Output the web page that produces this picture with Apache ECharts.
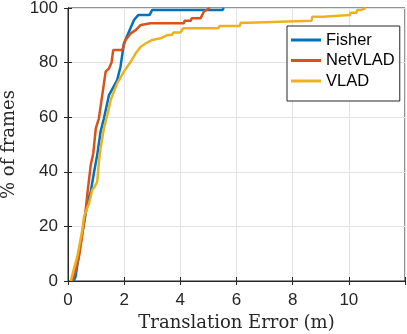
<!DOCTYPE html>
<html>
<head>
<meta charset="utf-8">
<script src="https://cdn.jsdelivr.net/npm/echarts@6/dist/echarts.min.js"></script>
<style>
html,body{margin:0;padding:0;background:#fff;}
#c{width:407px;height:334px;}
</style>
</head>
<body>
<div id="c"></div>
<script>
var xTicks = [0, 2, 4, 6, 8, 10];
var yTicks = [0, 20, 40, 60, 80, 100];
var seriesNames = ['Fisher', 'NetVLAD', 'VLAD'];

var fisher = [[0.2,0],[0.27,1.6],[0.45,13.9],[0.63,24.8],[0.75,30.9],[0.81,32.7],[0.93,40],[1.04,46.2],[1.16,54.7],[1.28,59.6],[1.46,68.1],[1.75,73.6],[1.87,78.5],[1.99,87],[2.17,91.3],[2.35,95.6],[2.5,97.4],[2.9,97.4],[3.0,99.3],[5.5,99.3],[5.55,100]];
var netvlad = [[0.15,0],[0.25,3],[0.39,8.9],[0.51,17],[0.63,26],[0.69,32],[0.81,42.5],[0.9,46.8],[0.99,55.9],[1.1,59.6],[1.22,68.1],[1.34,76.7],[1.46,77.9],[1.55,80],[1.61,84.6],[1.93,84.6],[2.05,88.3],[2.23,90.7],[2.41,91.9],[2.59,93.8],[2.94,94.4],[4.13,94.4],[4.15,95.3],[4.37,95.3],[4.4,96.2],[4.72,96.2],[4.84,98.7],[5.05,100]];
var vlad = [[0.1,0],[0.2,4],[0.33,8.9],[0.51,18.7],[0.57,23.6],[0.75,28.5],[0.86,33.3],[0.95,34.5],[1.04,36.4],[1.1,43.7],[1.16,48.6],[1.28,55.9],[1.4,60.8],[1.52,66.3],[1.75,72.4],[1.99,76.7],[2.23,80.3],[2.41,83.4],[2.59,85.8],[2.76,87],[3.0,88.3],[3.3,88.9],[3.53,90.1],[3.7,90.1],[3.75,91],[4.0,91],[4.1,92.6],[5.35,92.6],[5.4,93.4],[6.12,93.4],[6.15,94.6],[6.42,94.6],[6.45,95.3],[8.67,95.3],[8.7,96.8],[9.09,96.8],[9.12,97.4],[10.04,97.4],[10.07,98.3],[10.27,98.3],[10.3,99.3],[10.45,99.3],[10.6,100]];

var colors = ['#0072BD', '#D95319', '#EDB120'];
var axisColor = '#262626';

var chart = echarts.init(document.getElementById('c'), null, {renderer: 'canvas'});
function mkLine(name, data, color) {
  return {
    name: name, type: 'line', data: data, symbol: 'none', showSymbol: false,
    lineStyle: {color: color, width: 2.5}, itemStyle: {color: color},
    animation: false, z: 3
  };
}
chart.setOption({
  animation: false,
  backgroundColor: '#fff',
  grid: {left: 68, right: 2, top: 8, bottom: 53, containLabel: false, outerBoundsMode: 'none',
    show: true, borderColor: axisColor, borderWidth: 1, backgroundColor: 'transparent'},
  legend: {
    data: seriesNames, orient: 'vertical', left: 287, top: 26,
    backgroundColor: '#fff', borderColor: axisColor, borderWidth: 1,
    padding: [5, 5, 11, 4], icon: 'rect', itemWidth: 30, itemHeight: 3, itemGap: 2.5,
    textStyle: {fontFamily: 'Liberation Sans', fontSize: 16.5, color: '#000', lineHeight: 18}
  },
  xAxis: [{
    type: 'value', min: 0, max: 12, interval: 2,
    name: 'Translation Error (m)', nameLocation: 'middle', nameGap: 26,
    nameTextStyle: {fontFamily: 'DejaVu Serif', fontSize: 18, color: axisColor},
    axisLine: {show: true, lineStyle: {color: axisColor}},
    axisTick: {show: true, inside: true, length: 4, lineStyle: {color: axisColor}},
    axisLabel: {margin: 11, fontFamily: 'Liberation Sans', fontSize: 17, color: axisColor,
      formatter: function (v) { return xTicks.indexOf(v) >= 0 ? String(v) : ''; }},
    splitLine: {show: true, lineStyle: {color: '#e3e3e3', width: 1}}
  }, {
    type: 'value', position: 'top', min: 0, max: 12, interval: 2,
    axisLine: {show: true, lineStyle: {color: axisColor}},
    axisTick: {show: true, inside: true, length: 4, lineStyle: {color: axisColor}},
    axisLabel: {show: false}, splitLine: {show: false}
  }],
  yAxis: [{
    type: 'value', min: 0, max: 100, interval: 20,
    name: '% of frames', nameLocation: 'middle', nameGap: 43,
    nameTextStyle: {fontFamily: 'DejaVu Serif', fontSize: 18, color: axisColor},
    axisLine: {show: true, lineStyle: {color: axisColor}},
    axisTick: {show: true, inside: true, length: 4, lineStyle: {color: axisColor}},
    axisLabel: {margin: 10, fontFamily: 'Liberation Sans', fontSize: 17, color: axisColor,
      formatter: function (v) { return yTicks.indexOf(v) >= 0 ? String(v) : ''; }},
    splitLine: {show: true, lineStyle: {color: '#e3e3e3', width: 1}}
  }, {
    type: 'value', position: 'right', min: 0, max: 100, interval: 20,
    axisLine: {show: true, lineStyle: {color: axisColor}},
    axisTick: {show: true, inside: true, length: 4, lineStyle: {color: axisColor}},
    axisLabel: {show: false}, splitLine: {show: false}
  }],
  series: [
    mkLine(seriesNames[0], fisher, colors[0]),
    mkLine(seriesNames[1], netvlad, colors[1]),
    mkLine(seriesNames[2], vlad, colors[2])
  ]
});
</script>
</body>
</html>
